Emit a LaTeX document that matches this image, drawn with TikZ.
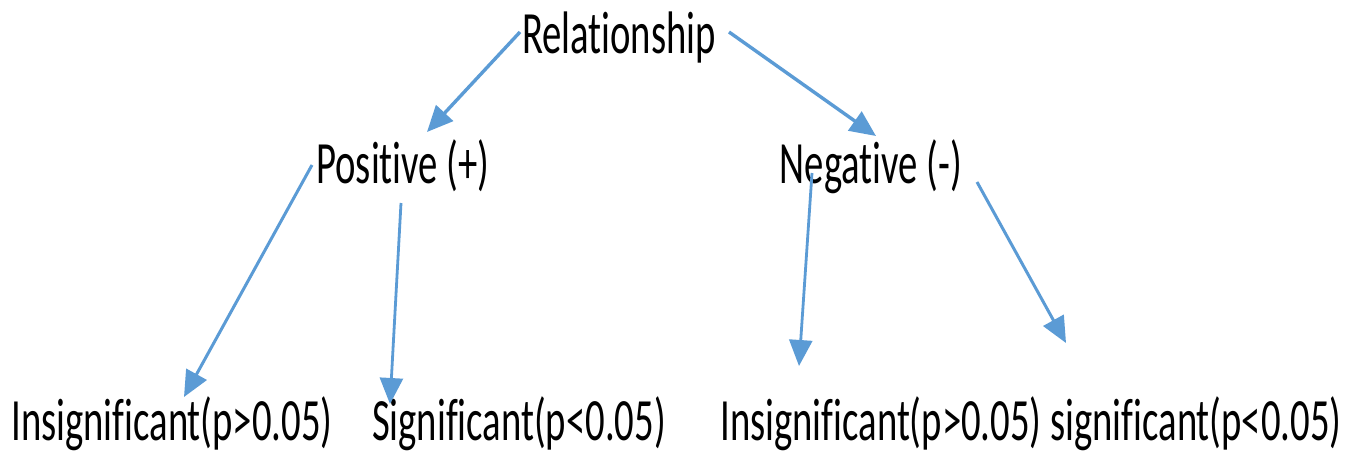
\documentclass[tikz,border=0pt]{standalone}
\usepackage{fontspec}
\setmainfont[FakeStretch=0.645,Ligatures={NoCommon}]{Carlito}
\usetikzlibrary{arrows.meta}
\definecolor{arrowblue}{HTML}{5B9BD5}
\begin{document}
\begin{tikzpicture}[x=1pt,y=-1pt,
  lbl/.style={anchor=base,inner sep=0pt,font=\fontsize{60}{70}\selectfont},
  conn/.style={draw=arrowblue,line width=3.4pt,-{Triangle[length=26pt,width=23pt]}}]
\useasboundingbox (0,0) rectangle (1346,455);
\node[lbl] (rel) at (619,53) {Relationship};
\node[lbl] (pos) at (403,183) {Positive (+)};
\node[lbl] (neg) at (871,183) {Negative (-)};
\node[lbl] (pi) at (172,440) {Insignificant(p>0.05)};
\node[lbl] (ps) at (519,440) {Significant(p<0.05)};
\node[lbl] (ni) at (881,440) {Insignificant(p>0.05)};
\node[lbl] (ns) at (1196,440) {significant(p<0.05)};
\coordinate (a1s) at (520,32);
\coordinate (a1e) at (427,132);
\coordinate (a2s) at (729,32);
\coordinate (a2e) at (876,136);
\coordinate (a3s) at (312,165);
\coordinate (a3e) at (184,397);
\coordinate (a4s) at (401,203);
\coordinate (a4e) at (390,404);
\coordinate (a5s) at (812,173);
\coordinate (a5e) at (799,366);
\coordinate (a6s) at (977,182);
\coordinate (a6e) at (1066,343);
\draw[conn] (a1s) -- (a1e);
\draw[conn] (a2s) -- (a2e);
\draw[conn,line width=3pt] (a3s) -- (a3e);
\draw[conn,line width=2.8pt] (a4s) -- (a4e);
\draw[conn,line width=2.8pt] (a5s) -- (a5e);
\draw[conn,line width=3pt] (a6s) -- (a6e);
\end{tikzpicture}
\end{document}
